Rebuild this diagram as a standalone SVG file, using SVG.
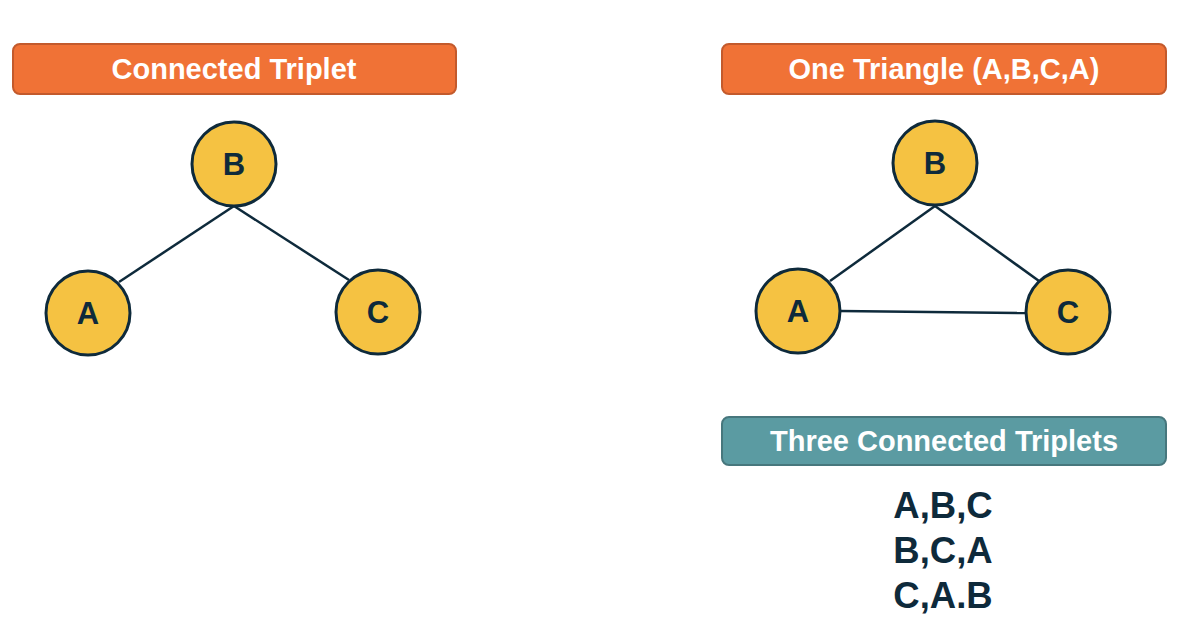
<svg xmlns="http://www.w3.org/2000/svg" width="1188" height="634" viewBox="0 0 1188 634">
<style>
.banner{fill:#F07236;stroke:#C35A2C;stroke-width:2}
.teal{fill:#5B9BA2;stroke:#47777D;stroke-width:2}
.btxt{font-family:"Liberation Sans",Arial,sans-serif;font-weight:bold;font-size:29px;fill:#FFFFFF;text-anchor:middle}
.node{fill:#F5C242;stroke:#0E2A3B;stroke-width:3}
.ntxt{font-family:"Liberation Sans",Arial,sans-serif;font-weight:bold;font-size:31px;fill:#0E2A3B;text-anchor:middle}
.edge{stroke:#0E2A3B;stroke-width:2.5;fill:none}
.ttxt{font-family:"Liberation Sans",Arial,sans-serif;font-weight:bold;font-size:36.5px;fill:#0E2A3B;text-anchor:middle}
</style>
<rect width="1188" height="634" fill="#FFFFFF"/>
<g id="title-left">
<rect class="banner" x="13" y="44" width="443" height="50" rx="7"/>
<text class="btxt" x="234" y="79">Connected Triplet</text>
</g>
<g id="title-right">
<rect class="banner" x="722" y="44" width="444" height="50" rx="7"/>
<text class="btxt" x="944" y="79">One Triangle (A,B,C,A)</text>
</g>
<g id="connectors">
<line class="edge" x1="234" y1="206" x2="119" y2="282"/>
<line class="edge" x1="234" y1="206" x2="349" y2="280"/>
<line class="edge" x1="935" y1="206" x2="830" y2="281"/>
<line class="edge" x1="935" y1="206" x2="1039" y2="281"/>
<line class="edge" x1="840" y1="311" x2="1026" y2="313"/>
</g>
<g id="left-B"><circle class="node" cx="234" cy="164" r="42"/><text class="ntxt" x="234" y="175">B</text></g>
<g id="left-A"><circle class="node" cx="88" cy="313" r="42"/><text class="ntxt" x="88" y="324">A</text></g>
<g id="left-C"><circle class="node" cx="378" cy="312" r="42"/><text class="ntxt" x="378" y="323">C</text></g>
<g id="right-B"><circle class="node" cx="935" cy="163" r="42"/><text class="ntxt" x="935" y="174">B</text></g>
<g id="right-A"><circle class="node" cx="798" cy="311" r="42"/><text class="ntxt" x="798" y="322">A</text></g>
<g id="right-C"><circle class="node" cx="1068" cy="312" r="42"/><text class="ntxt" x="1068" y="323">C</text></g>
<g id="triplets-title">
<rect class="teal" x="722" y="417" width="444" height="48" rx="7"/>
<text class="btxt" x="944" y="451">Three Connected Triplets</text>
</g>
<g id="triplets-list">
<text class="ttxt" x="943" y="518">A,B,C</text>
<text class="ttxt" x="943" y="563">B,C,A</text>
<text class="ttxt" x="943" y="608">C,A.B</text>
</g>
</svg>
